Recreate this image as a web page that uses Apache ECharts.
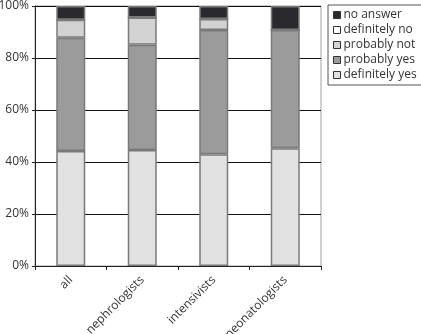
<!DOCTYPE html>
<html>
<head>
<meta charset="utf-8">
<script src="https://cdn.jsdelivr.net/npm/echarts@6/dist/echarts.min.js"></script>
<style>
  html, body { margin: 0; padding: 0; background: #fff; }
  #main { width: 421px; height: 334px; }
</style>
</head>
<body>
<div id="main"></div>
<script type="text/javascript">
    // data (percent of answers)
    var categories = ['all', 'nephrologists', 'intensivists', 'neonatologists'];
    var definitelyYes = [44.2, 44.6, 43.0, 45.3];
    var probablyYes = [43.6, 40.5, 47.8, 45.5];
    var probablyNot = [6.9, 10.5, 4.2, 0];
    var definitelyNo = [0, 0, 0, 0];
    var noAnswer = [5.3, 4.4, 5.0, 9.2];
    var yTicks = [0, 20, 40, 60, 80, 100];

    var myChart = echarts.init(document.getElementById('main'));
    var font = '"Open Sans", "DejaVu Sans", sans-serif';

    function bar(name, data, color) {
        return {
            name: name,
            type: 'bar',
            stack: 'total',
            barWidth: 29,
            data: data,
            itemStyle: { color: color, borderColor: '#7a7a7a', borderWidth: 1.5 }
        };
    }

    var option = {
        animation: false,
        textStyle: { fontFamily: font },
        grid: {
            left: 35, right: 100, top: 6, bottom: 68,
            outerBoundsMode: 'none',
            containLabel: false,
            show: true, borderColor: '#a0a0a0', borderWidth: 1
        },
        legend: {
            orient: 'vertical',
            left: 328, top: 5,
            padding: [4, 5, 4, 5],
            itemGap: 3,
            itemWidth: 7, itemHeight: 7,
            icon: 'rect',
            backgroundColor: '#fff',
            borderColor: '#555', borderWidth: 1,
            itemStyle: { borderColor: '#333', borderWidth: 1 },
            textStyle: { fontFamily: font, fontSize: 12, color: '#333', padding: [0, 0, 0, -2] },
            data: ['no answer', 'definitely no', 'probably not', 'probably yes', 'definitely yes']
        },
        xAxis: {
            type: 'category',
            data: categories,
            axisLine: { lineStyle: { color: '#222', width: 1 } },
            axisTick: { show: true, length: 4, alignWithLabel: false, lineStyle: { color: '#222' } },
            axisLabel: { rotate: 45, color: '#333', fontSize: 12, margin: 12, fontFamily: font },
        },
        yAxis: {
            type: 'value',
            min: yTicks[0], max: yTicks[yTicks.length - 1], interval: 20,
            axisLine: { show: true, lineStyle: { color: '#222', width: 1 } },
            axisTick: { show: true, length: 3, lineStyle: { color: '#222' } },
            axisLabel: { formatter: '{value}%', color: '#333', fontSize: 12, margin: 6, fontFamily: font },
            splitLine: { lineStyle: { color: '#111', width: 1 } }
        },
        series: [
            bar('definitely yes', definitelyYes, '#e1e1e1'),
            bar('probably yes', probablyYes, '#9b9b9b'),
            bar('probably not', probablyNot, '#d2d2d2'),
            bar('definitely no', definitelyNo, '#ffffff'),
            bar('no answer', noAnswer, '#2a2a2e')
        ]
    };

    myChart.setOption(option);
</script>
</body>
</html>
